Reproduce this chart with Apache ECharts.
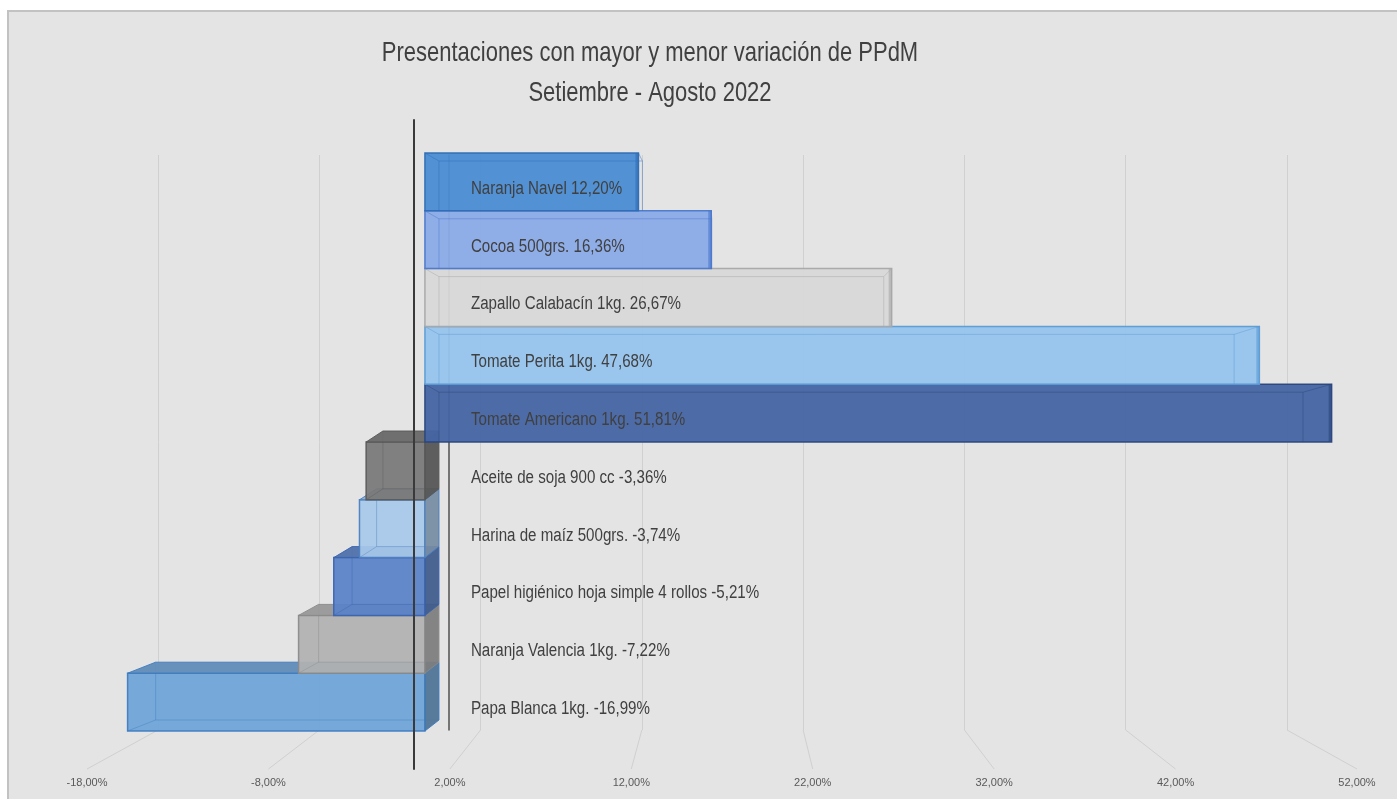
<!DOCTYPE html>
<html><head><meta charset="utf-8">
<script src="https://cdn.jsdelivr.net/npm/echarts@6/dist/echarts.min.js"></script>
<style>html,body{margin:0;padding:0;background:#fff}#c{width:1397px;height:799px}</style>
</head><body><div id="c"></div>
<script>
const categories = ['Naranja Navel','Cocoa 500grs.','Zapallo Calabacín 1kg.','Tomate Perita 1kg.','Tomate Americano 1kg.','Aceite de soja 900 cc','Harina de maíz 500grs.','Papel higiénico hoja simple 4 rollos','Naranja Valencia 1kg.','Papa Blanca 1kg.'];
const values = [12.20, 16.36, 26.67, 47.68, 51.81, -3.36, -3.74, -5.21, -7.22, -16.99];
const tickValues = [-18, -8, 2, 12, 22, 32, 42, 52];
const titleLines = ['Presentaciones con mayor y menor variación de PPdM', 'Setiembre - Agosto 2022'];
const barColors = ['#4a8cd2','#8aaae6','#d8d8d8','#96c3ec','#4464a2','#787878','#a8c8ea','#5a82c8','#b2b2b2','#6ea4d8'];
const edgeColors = ['#2f6db5','#4a78cc','#a6a6a6','#5b9bd5','#2a467c','#595959','#4a7fc0','#3a64b0','#8a8a8a','#3d7cc0'];

const FONT = "'Liberation Sans',Arial,sans-serif";
const fmt = v => v.toFixed(2).replace('.', ',') + '%';
function darken(hex, k){
  const n = parseInt(hex.slice(1),16);
  const r = Math.round(((n>>16)&255)*k), g = Math.round(((n>>8)&255)*k), b = Math.round((n&255)*k);
  return 'rgb('+r+','+g+','+b+')';
}
const DEPTH = 0.6, DYN = 11, DYP = 8, SX = 0.84;

const chart = echarts.init(document.getElementById('c'));
chart.setOption({
  animation:false,
  backgroundColor:'#ffffff',
  graphic:[
    {id:'frame', type:'rect', z:-10, shape:{x:8,y:11,width:1395,height:795}, style:{fill:'#e4e4e4', stroke:'#c2c2c2', lineWidth:2}},
    {id:'t1', type:'text', x:650, y:53, scaleX:0.785, z:5, style:{text:titleLines[0], align:'center', verticalAlign:'middle', fill:'#404040', font:'28px ' + FONT}},
    {id:'t2', type:'text', x:650, y:93, scaleX:0.785, z:5, style:{text:titleLines[1], align:'center', verticalAlign:'middle', fill:'#404040', font:'28px ' + FONT}}
  ],
  grid:[
    {left:87, right:40, top:153, bottom:68},
    {left:158, right:110, top:155, bottom:69},
    {left:87, right:40, top:120, bottom:30}
  ],
  xAxis:[
    {gridIndex:0, type:'value', min:-19.31, max:53.26, show:false},
    {gridIndex:1, type:'value', min:-18, max:52, interval:10, axisLine:{show:false}, axisTick:{show:false}, axisLabel:{show:false},
      splitLine:{show:true, lineStyle:{color:'#d0d0d0', width:1}}},
    {gridIndex:2, type:'value', min:-18, max:52, interval:10, axisLine:{show:false}, axisTick:{show:false}, splitLine:{show:false},
      axisLabel:{margin:8, fontFamily:FONT, fontSize:11, color:'#595959', formatter:v => fmt(v)}}
  ],
  yAxis:[
    {gridIndex:0, type:'category', data:categories, inverse:true, show:false},
    {gridIndex:1, type:'value', min:0, max:1, axisLine:{show:true, onZero:true, lineStyle:{color:'#505050', width:1.5}},
      axisTick:{show:false}, axisLabel:{show:false}, splitLine:{show:false}},
    {gridIndex:2, type:'value', min:0, max:1, z:10, axisLine:{show:true, onZero:true, lineStyle:{color:'#3a3a3a', width:2}},
      axisTick:{show:false}, axisLabel:{show:false}, splitLine:{show:false}}
  ],
  series:[]
});

const wallAt = v => chart.convertToPixel({gridIndex:1}, [v, 0]);
const frontAt = v => chart.convertToPixel({gridIndex:2}, [v, 0]);
const w0 = wallAt(0)[0], w10 = wallAt(10)[0];
const wallX = v => w0 + (w10 - w0) * v / 10;

function renderBar(params, api){
  const i = params.dataIndex;
  const v = api.value(0);
  const p0 = api.coord([0, i]), p1 = api.coord([v, i]);
  const h = api.size([0, 1])[1];
  const yT = p0[1] - h/2, yB = p0[1] + h/2;
  const x0 = p0[0], xv = p1[0];
  const bx0 = x0 + DEPTH*(wallX(0) - x0), bxv = xv + DEPTH*(wallX(v) - xv);
  const col = barColors[i], edge = edgeColors[i];
  const base = (categories.length - i) * 10;
  const children = [];
  if (v < 0) {
    children.push({type:'rect', z2:base, shape:{x:xv, y:yT, width:x0-xv, height:h}, style:{fill:col, stroke:edge, lineWidth:1.5, opacity:0.93}});
    children.push({type:'polyline', z2:base+1, shape:{points:[[bxv,yT-DYN],[bxv,yB-DYN],[bx0,yB-DYN]]}, style:{stroke:edge, opacity:0.4, lineWidth:1, fill:null}});
    children.push({type:'line', z2:base+1, shape:{x1:xv, y1:yB, x2:bxv, y2:yB-DYN}, style:{stroke:edge, opacity:0.4, lineWidth:1}});
    children.push({type:'polygon', z2:base+2, shape:{points:[[xv,yT],[x0,yT],[bx0,yT-DYN],[bxv,yT-DYN]]}, style:{fill:darken(col,0.85), stroke:edge, lineWidth:1, opacity:0.93}});
    children.push({type:'polygon', z2:base+2, shape:{points:[[x0,yT],[bx0,yT-DYN],[bx0,yB-DYN],[x0,yB]]}, style:{fill:darken(col,0.7), stroke:edge, lineWidth:1, opacity:0.93}});
  } else {
    children.push({type:'rect', z2:base, shape:{x:x0, y:yT, width:xv-x0, height:h}, style:{fill:col, stroke:edge, lineWidth:1.5, opacity:0.95}});
    children.push({type:'polyline', z2:base+1, shape:{points:[[x0,yT],[bx0,yT+DYP],[bxv,yT+DYP],[xv,yT]]}, style:{stroke:edge, opacity:0.45, lineWidth:1, fill:null}});
    children.push({type:'line', z2:base+1, shape:{x1:bx0, y1:yT+DYP, x2:bx0, y2:yB}, style:{stroke:edge, opacity:0.45, lineWidth:1}});
    children.push({type:'line', z2:base+1, shape:{x1:bxv, y1:yT+DYP, x2:bxv, y2:yB}, style:{stroke:edge, opacity:0.45, lineWidth:1}});
    children.push({type:'rect', z2:base+2, shape:{x:xv-3, y:yT, width:3, height:h}, style:{fill:edge, opacity:0.6}});
  }
  children.push({type:'text', z2:300, x:x0 + 46, y:p0[1] + 7, scaleX:SX,
    style:{text:categories[i] + ' ' + fmt(v), align:'left', verticalAlign:'middle', fill:'#404040', font:'18px ' + FONT}});
  return {type:'group', children};
}

const floorLines = tickValues.map((t, k) => {
  const a = wallAt(t), b = frontAt(t);
  return {id:'floor'+k, type:'line', z:-5, shape:{x1:a[0], y1:a[1], x2:b[0], y2:b[1]}, style:{stroke:'#d0d0d0', lineWidth:1}};
});

chart.setOption({
  graphic: floorLines,
  series:[{
    type:'custom', xAxisIndex:0, yAxisIndex:0, z:3,
    data: values.map((v, i) => [v, i]),
    encode:{x:0, y:1},
    renderItem: renderBar
  }]
});
</script></body></html>
